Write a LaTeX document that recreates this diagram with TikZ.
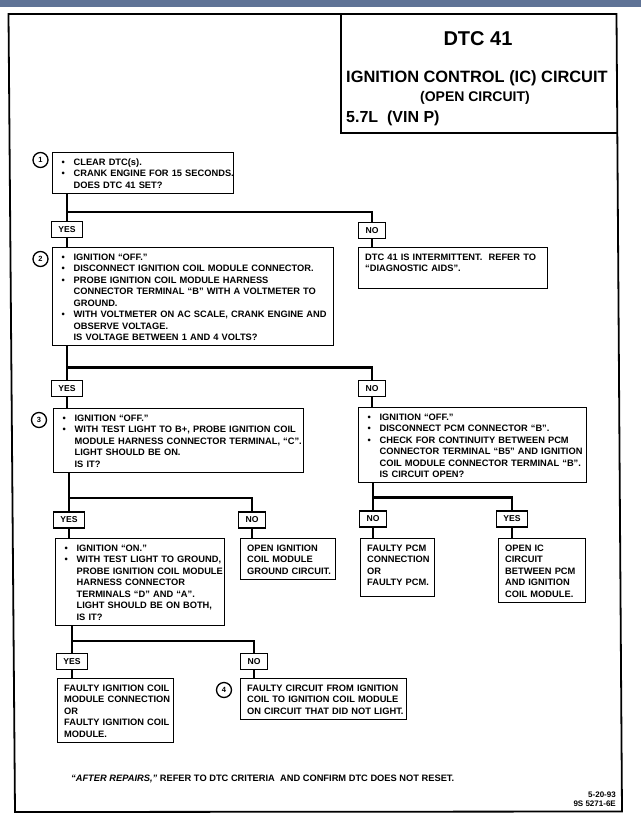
\documentclass[tikz,border=0pt]{standalone}
\usepackage{fontspec}
\setmainfont{Liberation Sans}
\newcommand\chartfont{\fontsize{9.3}{11.5}\selectfont\bfseries}
\newcommand\fstrut{\rule[-2pt]{0pt}{11.5pt}}
\newcommand\bitem[1]{\mbox{\makebox[14.5pt][l]{\hspace{2.5pt}\textbullet}#1}}
\newcommand\contl[1]{\mbox{\hspace*{14.5pt}#1}}
\newcommand\plainl[1]{\mbox{#1}}
\definecolor{bandblue}{RGB}{95,115,150}
\begin{document}
\begin{tikzpicture}[x=1pt,y=-1pt,
  stepbox/.style={draw,line width=1.3pt,anchor=north west,align=left,inner xsep=6.5pt,inner ysep=3pt,font=\chartfont,execute at begin node=\fstrut,execute at end node=\fstrut},
  answer/.style={draw,line width=1.3pt,font=\fontsize{8.6}{10}\selectfont\bfseries,inner xsep=7pt,inner ysep=0pt,minimum height=16pt},
  flow/.style={line width=2.8pt},
  stepnum/.style={circle,draw,line width=1.3pt,minimum size=15pt,inner sep=0pt,font=\fontsize{7.5}{8}\selectfont\bfseries}]
\useasboundingbox (0,0) rectangle (641,823);
\fill[white] (0,0) rectangle (641,823);
\fill[bandblue] (0,0) rectangle (641,6.5);

\draw[line width=1.8pt] (8.5,14) -- (616.5,14) -- (622,811.5) -- (15,812) -- cycle;
\draw[line width=1.5pt] (341,14) -- (341,133) -- (617.5,133);

\node[font=\fontsize{20}{24}\selectfont\bfseries] (dtc) at (478,39) {DTC 41};
\node[anchor=west,inner sep=0pt,font=\fontsize{16.4}{19}\selectfont\bfseries] (circ) at (346,78) {IGNITION CONTROL (IC) CIRCUIT};
\node[inner sep=0pt,font=\fontsize{14}{17}\selectfont\bfseries] (open) at (475,98) {(OPEN CIRCUIT)};
\node[anchor=west,inner sep=0pt,font=\fontsize{16}{19}\selectfont\bfseries] (vin) at (346,118) {5.7L\ \ (VIN P)};

\node[stepbox,text width=168pt] (b1) at (52,152) {\bitem{CLEAR DTC(s).}\\ \bitem{CRANK ENGINE FOR 15 SECONDS.}\\ \contl{DOES DTC 41 SET?}};
\node[stepnum] (n1) at (40.5,160) {1};

\node[answer] (yes1) at (67,229.5) {YES};
\node[answer] (no1) at (372,230.5) {NO};

\node[stepbox,text width=268pt] (b2) at (52,247) {\bitem{IGNITION “OFF.”}\\ \bitem{DISCONNECT IGNITION COIL MODULE CONNECTOR.}\\ \bitem{PROBE IGNITION COIL MODULE HARNESS}\\ \contl{CONNECTOR TERMINAL “B” WITH A VOLTMETER TO}\\ \contl{GROUND.}\\ \bitem{WITH VOLTMETER ON AC SCALE, CRANK ENGINE AND}\\ \contl{OBSERVE VOLTAGE.}\\ \contl{IS VOLTAGE BETWEEN 1 AND 4 VOLTS?}};
\node[stepnum] (n2) at (40.5,259) {2};

\node[stepbox,text width=176pt] (r1) at (358,247) {\plainl{DTC 41 IS INTERMITTENT.\ \ REFER TO}\\ \plainl{“DIAGNOSTIC AIDS”.}\\ \mbox{}};

\node[answer] (yes2) at (67,388.5) {YES};
\node[answer] (no2) at (372,388.5) {NO};

\node[stepbox,text width=237pt] (b3) at (53,408) {\bitem{IGNITION “OFF.”}\\ \bitem{WITH TEST LIGHT TO B+, PROBE IGNITION COIL}\\ \contl{MODULE HARNESS CONNECTOR TERMINAL, “C”.}\\ \contl{LIGHT SHOULD BE ON.}\\ \contl{IS IT?}};
\node[stepnum] (n3) at (39,420) {3};

\node[stepbox,text width=215pt] (r2) at (358,407) {\bitem{IGNITION “OFF.”}\\ \bitem{DISCONNECT PCM CONNECTOR “B”.}\\ \bitem{CHECK FOR CONTINUITY BETWEEN PCM}\\ \contl{CONNECTOR TERMINAL “B5” AND IGNITION}\\ \contl{COIL MODULE CONNECTOR TERMINAL “B”.}\\ \contl{IS CIRCUIT OPEN?}};

\node[answer] (yes3) at (69,520) {YES};
\node[answer] (no3) at (252,520) {NO};
\node[answer] (no4) at (373,519) {NO};
\node[answer] (yes4) at (512,519) {YES};

\node[stepbox,text width=156pt] (b5) at (55,538) {\bitem{IGNITION “ON.”}\\ \bitem{WITH TEST LIGHT TO GROUND,}\\ \contl{PROBE IGNITION COIL MODULE}\\ \contl{HARNESS CONNECTOR}\\ \contl{TERMINALS “D” AND “A”.}\\ \contl{LIGHT SHOULD BE ON BOTH,}\\ \contl{IS IT?}};
\node[stepbox,text width=82pt] (b6) at (240,538) {\plainl{OPEN IGNITION}\\ \plainl{COIL MODULE}\\ \plainl{GROUND CIRCUIT.}};
\node[stepbox,text width=61pt] (b7) at (360,538) {\plainl{FAULTY PCM}\\ \plainl{CONNECTION}\\ \plainl{OR}\\ \plainl{FAULTY PCM.}\\[-5.5pt] \mbox{}};
\node[stepbox,text width=74pt] (b8) at (498,538) {\plainl{OPEN IC}\\ \plainl{CIRCUIT}\\ \plainl{BETWEEN PCM}\\ \plainl{AND IGNITION}\\ \plainl{COIL MODULE.}};

\node[answer] (yes5) at (72,661.5) {YES};
\node[answer] (no5) at (254,661.5) {NO};

\node[stepbox,text width=103pt] (b9) at (57,678) {\plainl{FAULTY IGNITION COIL}\\ \plainl{MODULE CONNECTION}\\ \plainl{OR}\\ \plainl{FAULTY IGNITION COIL}\\ \plainl{MODULE.}};
\node[stepbox,text width=153pt] (b10) at (240,678) {\plainl{FAULTY CIRCUIT FROM IGNITION}\\ \plainl{COIL TO IGNITION COIL MODULE}\\ \plainl{ON CIRCUIT THAT DID NOT LIGHT.}};
\node[stepnum] (n4) at (224,690) {4};

\coordinate (s1) at (67,212);
\coordinate (s2) at (67,367.5);
\coordinate (s3) at (69,498);
\coordinate (s4) at (373,497.5);
\coordinate (s5) at (72,641);

\draw[flow] (b1.south -| s1) -- (yes1.north);
\draw[flow] (yes1.south) -- (yes1 |- b2.north);
\draw[flow] (s1) -| (no1.north);
\draw[flow] (no1.south) -- (no1 |- r1.north);

\draw[flow] (b2.south -| s2) -- (yes2.north);
\draw[flow] (yes2.south) -- (yes2 |- b3.north);
\draw[flow] (s2) -| (no2.north);
\draw[flow] (no2.south) -- (no2 |- r2.north);

\draw[flow] (b3.south -| s3) -- (yes3.north);
\draw[flow] (yes3.south) -- (yes3 |- b5.north);
\draw[flow] (s3) -| (no3.north);
\draw[flow] (no3.south) -- (no3 |- b6.north);

\draw[flow] (r2.south -| s4) -- (no4.north);
\draw[flow] (no4.south) -- (no4 |- b7.north);
\draw[flow] (s4) -| (yes4.north);
\draw[flow] (yes4.south) -- (yes4 |- b8.north);

\draw[flow] (b5.south -| s5) -- (yes5.north);
\draw[flow] (yes5.south) -- (yes5 |- b9.north);
\draw[flow] (s5) -| (no5.north);
\draw[flow] (no5.south) -- (no5 |- b10.north);

\node[anchor=west,inner sep=0pt,font=\chartfont] (note) at (71,779) {\textit{“AFTER REPAIRS,”} REFER TO DTC CRITERIA\ \ AND CONFIRM DTC DOES NOT RESET.};
\node[anchor=east,align=right,inner sep=0pt,font=\fontsize{8}{9}\selectfont\bfseries] (code) at (616,799) {5-20-93\\9S 5271-6E};
\end{tikzpicture}
\end{document}
